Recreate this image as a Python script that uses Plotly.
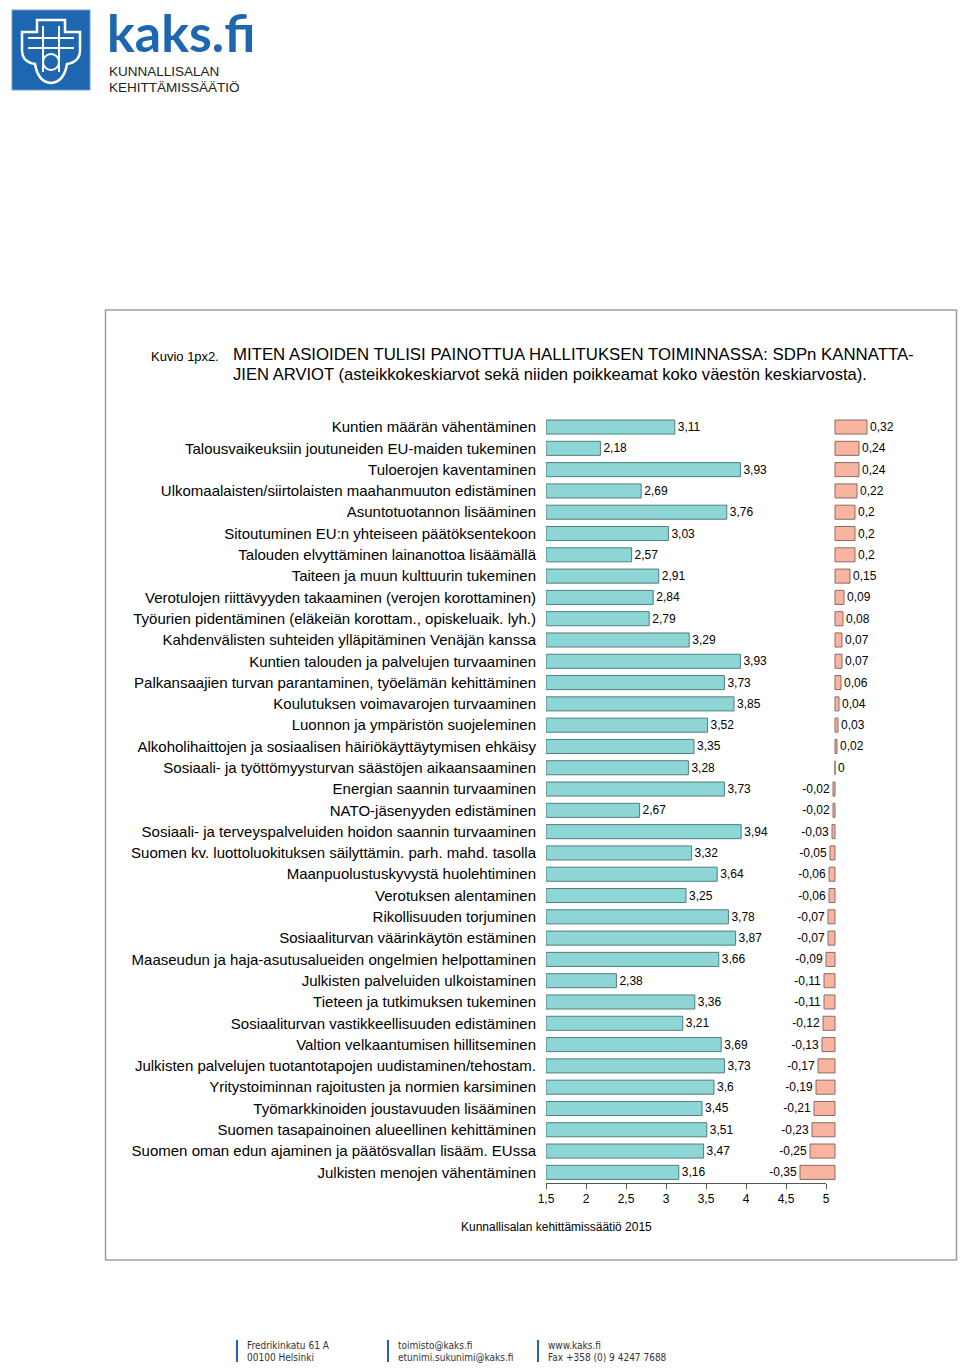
import plotly.graph_objects as go

W, H = 960, 1371

categories = [
    "Kuntien määrän vähentäminen",
    "Talousvaikeuksiin joutuneiden EU-maiden tukeminen",
    "Tuloerojen kaventaminen",
    "Ulkomaalaisten/siirtolaisten maahanmuuton edistäminen",
    "Asuntotuotannon lisääminen",
    "Sitoutuminen EU:n yhteiseen päätöksentekoon",
    "Talouden elvyttäminen lainanottoa lisäämällä",
    "Taiteen ja muun kulttuurin tukeminen",
    "Verotulojen riittävyyden takaaminen (verojen korottaminen)",
    "Työurien pidentäminen (eläkeiän korottam., opiskeluaik. lyh.)",
    "Kahdenvälisten suhteiden ylläpitäminen Venäjän kanssa",
    "Kuntien talouden ja palvelujen turvaaminen",
    "Palkansaajien turvan parantaminen, työelämän kehittäminen",
    "Koulutuksen voimavarojen turvaaminen",
    "Luonnon ja ympäristön suojeleminen",
    "Alkoholihaittojen ja sosiaalisen häiriökäyttäytymisen ehkäisy",
    "Sosiaali- ja työttömyysturvan säästöjen aikaansaaminen",
    "Energian saannin turvaaminen",
    "NATO-jäsenyyden edistäminen",
    "Sosiaali- ja terveyspalveluiden hoidon saannin turvaaminen",
    "Suomen kv. luottoluokituksen säilyttämin. parh. mahd. tasolla",
    "Maanpuolustuskyvystä huolehtiminen",
    "Verotuksen alentaminen",
    "Rikollisuuden torjuminen",
    "Sosiaaliturvan väärinkäytön estäminen",
    "Maaseudun ja haja-asutusalueiden ongelmien helpottaminen",
    "Julkisten palveluiden ulkoistaminen",
    "Tieteen ja tutkimuksen tukeminen",
    "Sosiaaliturvan vastikkeellisuuden edistäminen",
    "Valtion velkaantumisen hillitseminen",
    "Julkisten palvelujen tuotantotapojen uudistaminen/tehostam.",
    "Yritystoiminnan rajoitusten ja normien karsiminen",
    "Työmarkkinoiden joustavuuden lisääminen",
    "Suomen tasapainoinen alueellinen kehittäminen",
    "Suomen oman edun ajaminen ja päätösvallan lisääm. EUssa",
    "Julkisten menojen vähentäminen",
]

means = [3.11, 2.18, 3.93, 2.69, 3.76, 3.03, 2.57, 2.91, 2.84, 2.79,
         3.29, 3.93, 3.73, 3.85, 3.52, 3.35, 3.28, 3.73, 2.67, 3.94,
         3.32, 3.64, 3.25, 3.78, 3.87, 3.66, 2.38, 3.36, 3.21, 3.69,
         3.73, 3.6, 3.45, 3.51, 3.47, 3.16]

deviations = [0.32, 0.24, 0.24, 0.22, 0.2, 0.2, 0.2, 0.15, 0.09, 0.08,
              0.07, 0.07, 0.06, 0.04, 0.03, 0.02, 0, -0.02, -0.02, -0.03,
              -0.05, -0.06, -0.06, -0.07, -0.07, -0.09, -0.11, -0.11, -0.12, -0.13,
              -0.17, -0.19, -0.21, -0.23, -0.25, -0.35]

scale_start = 1.5
x_ticks = [1.5, 2, 2.5, 3, 3.5, 4, 4.5, 5]
x_ticktext = ["1,5", "2", "2,5", "3", "3,5", "4", "4,5", "5"]


def fmt(v):
    return f"{v:g}".replace(".", ",")


def px(x):
    return x / W


def py(y):
    return 1 - y / H


def P(x, y):
    return f"{px(x):.5f},{py(y):.5f}"


FONT = "Liberation Sans, Arial, sans-serif"
COND = "DejaVu Sans Condensed, DejaVu Sans, sans-serif"
TEAL = "#8ed6d6"
TEAL_LINE = "#4f7f80"
PINK = "#f9b4a0"
PINK_LINE = "#8a6a66"
BLUE = "#1f66b0"

fig = go.Figure()

fig.add_trace(go.Bar(
    y=categories,
    x=[m - scale_start for m in means],
    base=scale_start,
    orientation="h",
    marker=dict(color=TEAL, line=dict(color=TEAL_LINE, width=1)),
    width=0.66,
    text=[fmt(m) for m in means],
    textposition="outside",
    constraintext="none",
    cliponaxis=False,
    textfont=dict(family=FONT, size=12, color="black"),
    xaxis="x", yaxis="y",
    hoverinfo="skip",
))

fig.add_trace(go.Bar(
    y=categories,
    x=deviations,
    orientation="h",
    marker=dict(color=PINK, line=dict(color=PINK_LINE, width=1)),
    width=0.66,
    text=[fmt(d) for d in deviations],
    textposition="outside",
    constraintext="none",
    cliponaxis=False,
    textfont=dict(family=FONT, size=12, color="black"),
    xaxis="x2", yaxis="y",
    hoverinfo="skip",
))

x_left, x_right = 546, 826
y_top, y_bot = 416.4, 1183

shapes = []
annotations = []

# outer frame
shapes.append(dict(type="rect", xref="paper", yref="paper",
                   x0=px(105.5), x1=px(956.5), y0=py(1260), y1=py(310),
                   line=dict(color="#a0a0a0", width=1.5)))

# logo square
shapes.append(dict(type="rect", xref="paper", yref="paper",
                   x0=px(12), x1=px(90), y0=py(90), y1=py(10),
                   fillcolor=BLUE, line=dict(color="#6f9fd2", width=1)))

shield = ("M " + P(22, 32) + " L " + P(37, 32) + " L " + P(37, 20) + " L " + P(65, 20)
          + " L " + P(65, 32) + " L " + P(80, 32) + " L " + P(80, 50)
          + " Q " + P(80, 62) + " " + P(67, 64)
          + " Q " + P(64, 82) + " " + P(51, 83)
          + " Q " + P(38, 82) + " " + P(35, 64)
          + " Q " + P(22, 62) + " " + P(22, 50) + " Z")
shapes.append(dict(type="path", xref="paper", yref="paper", path=shield,
                   line=dict(color="white", width=2.5)))
inner = ("M " + P(28, 38) + " L " + P(74, 38) + " M " + P(28, 48) + " L " + P(74, 48)
         + " M " + P(43, 26) + " L " + P(43, 72) + " M " + P(59, 26) + " L " + P(59, 72))
shapes.append(dict(type="path", xref="paper", yref="paper", path=inner,
                   line=dict(color="white", width=2)))
shapes.append(dict(type="circle", xref="paper", yref="paper",
                   x0=px(43), x1=px(59), y0=py(70), y1=py(54),
                   line=dict(color="white", width=2)))

annotations.append(dict(xref="paper", yref="paper", x=px(105), y=py(31.8),
                        text="kaks.fi", showarrow=False, xanchor="left", yanchor="middle",
                        font=dict(family="Lato, Liberation Sans, sans-serif", size=52,
                                  color=BLUE, weight="bold")))
annotations.append(dict(xref="paper", yref="paper", x=px(107), y=py(71),
                        text="KUNNALLISALAN", showarrow=False, xanchor="left", yanchor="middle",
                        font=dict(family=FONT, size=13.5, color="#222")))
annotations.append(dict(xref="paper", yref="paper", x=px(107), y=py(87),
                        text="KEHITTÄMISSÄÄTIÖ", showarrow=False, xanchor="left", yanchor="middle",
                        font=dict(family=FONT, size=13.5, color="#222")))

# title
annotations.append(dict(xref="paper", yref="paper", x=px(149), y=py(356),
                        text="Kuvio 1px2.", showarrow=False, xanchor="left", yanchor="middle",
                        font=dict(family=FONT, size=13, color="black")))
annotations.append(dict(xref="paper", yref="paper", x=px(231), y=py(355),
                        text="MITEN ASIOIDEN TULISI PAINOTTUA HALLITUKSEN TOIMINNASSA: SDPn KANNATTA-",
                        showarrow=False, xanchor="left", yanchor="middle",
                        font=dict(family=FONT, size=16.8, color="black")))
annotations.append(dict(xref="paper", yref="paper", x=px(231), y=py(374),
                        text="JIEN ARVIOT (asteikkokeskiarvot sekä niiden poikkeamat koko väestön keskiarvosta).",
                        showarrow=False, xanchor="left", yanchor="middle",
                        font=dict(family=FONT, size=16.6, color="black")))

# source
annotations.append(dict(xref="paper", yref="paper", x=px(556), y=py(1227),
                        text="Kunnallisalan kehittämissäätiö 2015", showarrow=False,
                        xanchor="center", yanchor="middle",
                        font=dict(family=FONT, size=12, color="black")))

# page footer
footer = [
    (237, "Fredrikinkatu 61 A", "00100 Helsinki"),
    (388, "toimisto@kaks.fi", "etunimi.sukunimi@kaks.fi"),
    (538, "www.kaks.fi", "Fax +358 (0) 9 4247 7688"),
]
for fx, l1, l2 in footer:
    shapes.append(dict(type="line", xref="paper", yref="paper",
                       x0=px(fx), x1=px(fx), y0=py(1362), y1=py(1340),
                       line=dict(color=BLUE, width=2)))
    annotations.append(dict(xref="paper", yref="paper", x=px(fx + 8), y=py(1345),
                            text=l1, showarrow=False, xanchor="left", yanchor="middle",
                            font=dict(family=COND, size=10, color="#333")))
    annotations.append(dict(xref="paper", yref="paper", x=px(fx + 8), y=py(1357.5),
                            text=l2, showarrow=False, xanchor="left", yanchor="middle",
                            font=dict(family=COND, size=10, color="#333")))

fig.update_layout(
    width=W, height=H,
    margin=dict(l=0, r=0, t=0, b=0, pad=0, autoexpand=False),
    paper_bgcolor="white", plot_bgcolor="rgba(0,0,0,0)",
    showlegend=False,
    font=dict(family=FONT, size=12, color="black"),
    xaxis=dict(domain=[px(x_left), px(x_right)], range=[1.5, 5], anchor="y",
               tickvals=x_ticks, ticktext=x_ticktext,
               showline=True, linecolor="#555", linewidth=1,
               ticks="outside", ticklen=5, tickcolor="#555",
               showgrid=False, zeroline=False, automargin=False,
               tickfont=dict(family=FONT, size=12, color="black")),
    xaxis2=dict(domain=[px(760), px(910)], range=[-0.75, 0.75], anchor="y",
                visible=False, showgrid=False, zeroline=False),
    yaxis=dict(domain=[py(y_bot), py(y_top)], anchor="x",
               type="category", categoryorder="array", categoryarray=categories,
               autorange="reversed", automargin=False,
               showline=False, showgrid=False, zeroline=False,
               ticks="outside", ticklen=6, tickcolor="rgba(0,0,0,0)",
               tickfont=dict(family=FONT, size=15, color="black")),
    shapes=shapes,
    annotations=annotations,
)

fig.write_html(
    "out.html",
    config={"displayModeBar": False},
    post_script="document.body.style.margin='0';document.body.style.overflow='hidden';",
)
